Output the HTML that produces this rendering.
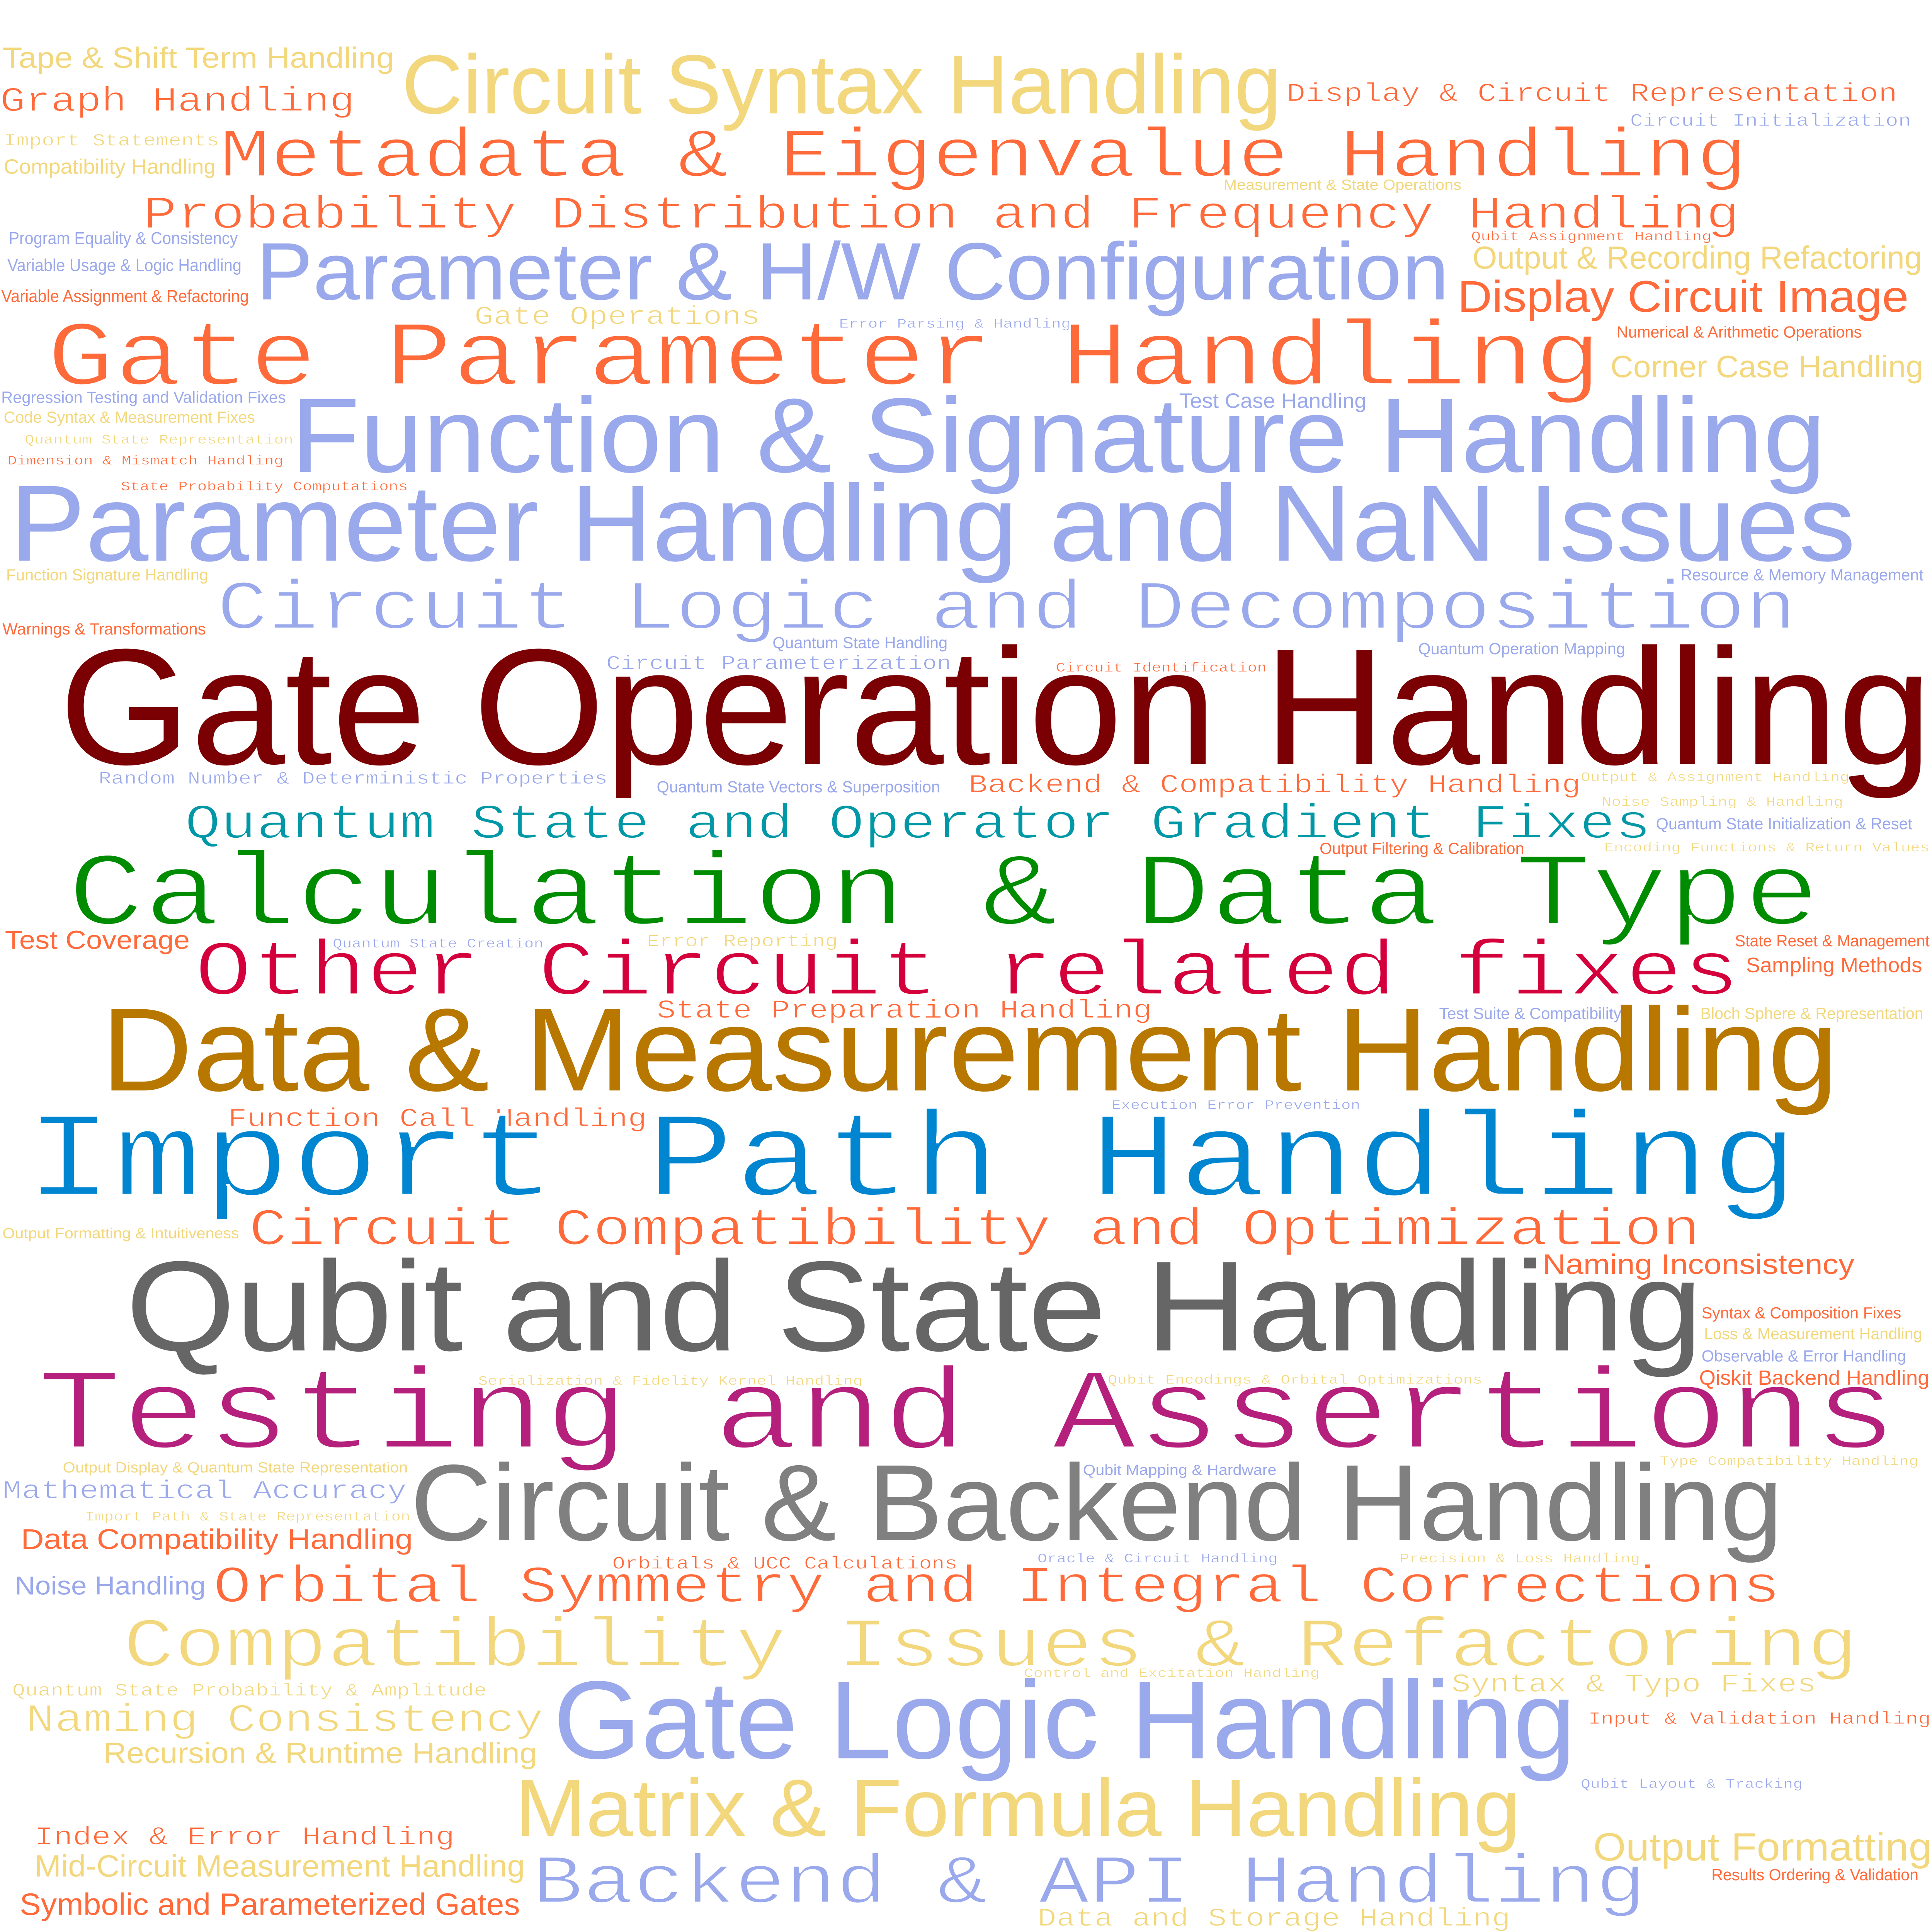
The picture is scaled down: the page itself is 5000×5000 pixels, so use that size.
<!DOCTYPE html>
<html><head><meta charset="utf-8"><style>
html,body{margin:0;padding:0;background:#fff;}
svg{display:block;}
</style></head><body>
<svg id="cloud" xmlns="http://www.w3.org/2000/svg" width="5000" height="5000" viewBox="0 0 1568 1568">
<rect width="1568" height="1568" fill="#fff"/>
</svg>
<script>
const C={o:"#FF6A3A",p:"#9AA8EC",y:"#F2D77C",r:"#7A0004",t:"#0098A6",g:"#008C00",c:"#D4003C",d:"#B87800",b:"#0085D0",k:"#666666",m:"#B5207D",h:"#808080"};
// [text, font(s=sans,m=mono), color, x, baseline, size, width]
const words=[
["Tape & Shift Term Handling","s","y",2,55,24,318],
["Graph Handling","m","o",0,90,30,288],
["Circuit Syntax Handling","s","y",326,92,68,714],
["Display & Circuit Representation","m","o",1044,82,24,496],
["Circuit Initialization","m","p",1323,102,16,228],
["Import Statements","m","y",3,118,17,175],
["Compatibility Handling","s","y",3,141,17,172],
["Metadata & Eigenvalue Handling","m","o",178,143,60,1240],
["Measurement & State Operations","s","y",993,154,12,193],
["Probability Distribution and Frequency Handling","m","o",116,185,40,1296],
["Program Equality & Consistency","s","p",7,198,14,186],
["Qubit Assignment Handling","m","o",1194,195,12,195],
["Output & Recording Refactoring","s","y",1195,218,26,365],
["Variable Usage & Logic Handling","s","p",6,220,14,190],
["Parameter & H/W Configuration","s","p",208,243,66,968],
["Variable Assignment & Refactoring","s","o",1,245,14,201],
["Display Circuit Image","s","o",1183,253,36,366],
["Gate Operations","m","y",385,263,22,232],
["Error Parsing & Handling","m","p",681,266,13,188],
["Numerical & Arithmetic Operations","s","o",1312,274,13,199],
["Gate Parameter Handling","m","o",38,312,76,1262],
["Corner Case Handling","s","y",1307,306,25,254],
["Regression Testing and Validation Fixes","s","p",1,327,13,231],
["Test Case Handling","s","p",957,331,17,152],
["Code Syntax & Measurement Fixes","s","y",3,343,13,204],
["Function & Signature Handling","s","p",236,383,86,1246],
["Quantum State Representation","m","y",20,360,12,218],
["Dimension & Mismatch Handling","m","o",6,377,13,224],
["State Probability Computations","m","o",98,398,13,233],
["Parameter Handling and NaN Issues","s","p",8,455,88,1498],
["Function Signature Handling","s","y",5,471,13,164],
["Resource & Memory Management","s","p",1364,471,13,197],
["Circuit Logic and Decomposition","m","p",176,510,58,1282],
["Warnings & Transformations","s","o",2,515,13,165],
["Quantum State Handling","s","p",627,526,13,142],
["Quantum Operation Mapping","s","p",1151,531,13,168],
["Circuit Parameterization","m","p",492,543,20,280],
["Circuit Identification","m","o",857,545,13,171],
["Gate Operation Handling","s","r",48,620,134,1520],
["Random Number & Deterministic Properties","m","p",80,636,16,413],
["Quantum State Vectors & Superposition","s","p",533,643,13,230],
["Backend & Compatibility Handling","m","o",786,643,24,497],
["Output & Assignment Handling","m","y",1283,634,12,218],
["Noise Sampling & Handling","m","y",1300,654,12,196],
["Quantum State and Operator Gradient Fixes","m","t",150,680,40,1190],
["Quantum State Initialization & Reset","s","p",1344,673,13,208],
["Encoding Functions & Return Values","m","y",1302,691,12,264],
["Output Filtering & Calibration","s","o",1071,693,13,166],
["Calculation & Data Type","m","g",55,750,86,1422],
["Test Coverage","s","o",4,770,21,150],
["Quantum State Creation","m","p",270,769,13,171],
["Error Reporting","m","y",525,768,16,155],
["State Reset & Management","s","o",1408,768,13,158],
["Other Circuit related fixes","m","c",158,807,62,1254],
["Sampling Methods","s","o",1417,789,17,143],
["State Preparation Handling","m","o",533,826,22,402],
["Test Suite & Compatibility","s","p",1168,827,13,148],
["Bloch Sphere & Representation","s","y",1380,827,13,181],
["Data & Measurement Handling","s","d",82,885,96,1410],
["Execution Error Prevention","m","p",902,900,12,202],
["Function Call Handling","m","o",185,914,22,340],
["Import Path Handling","m","b",20,970,100,1440],
["Output Formatting & Intuitiveness","s","y",2,1005,12,192],
["Circuit Compatibility and Optimization","m","o",202,1010,42,1178],
["Naming Inconsistency","s","o",1252,1034,23,253],
["Qubit and State Handling","s","k",102,1096,104,1280],
["Syntax & Composition Fixes","s","o",1381,1070,13,162],
["Loss & Measurement Handling","s","y",1383,1087,13,177],
["Observable & Error Handling","s","p",1381,1105,13,166],
["Qiskit Backend Handling","s","o",1379,1124,17,187],
["Serialization & Fidelity Kernel Handling","m","y",388,1124,11,312],
["Qubit Encodings & Orbital Optimizations","m","y",899,1123,11,304],
["Testing and Assertions","m","m",30,1175,92,1510],
["Output Display & Quantum State Representation","s","y",51,1195,12,280],
["Qubit Mapping & Hardware","s","p",879,1197,12,157],
["Type Compatibility Handling","m","y",1347,1189,12,210],
["Mathematical Accuracy","m","p",2,1216,24,328],
["Circuit & Backend Handling","s","h",333,1250,88,1114],
["Import Path & State Representation","m","y",69,1234,11,264],
["Data Compatibility Handling","s","o",17,1257,23,318],
["Orbitals & UCC Calculations","m","o",497,1273,16,280],
["Oracle & Circuit Handling","m","p",842,1268,13,195],
["Precision & Loss Handling","m","y",1136,1268,13,195],
["Noise Handling","s","p",12,1294,21,155],
["Orbital Symmetry and Integral Corrections","m","o",173,1300,42,1272],
["Compatibility Issues & Refactoring","m","y",100,1352,60,1408],
["Control and Excitation Handling","m","y",831,1361,12,240],
["Quantum State Probability & Amplitude","m","y",10,1376,16,385],
["Syntax & Typo Fixes","m","y",1178,1373,24,296],
["Naming Consistency","m","y",21,1405,32,420],
["Gate Logic Handling","s","p",449,1427,90,830],
["Input & Validation Handling","m","o",1289,1399,16,278],
["Recursion & Runtime Handling","s","y",84,1431,24,352],
["Qubit Layout & Tracking","m","p",1283,1451,12,180],
["Matrix & Formula Handling","s","y",418,1490,66,816],
["Index & Error Handling","m","o",28,1497,24,341],
["Output Formatting","s","y",1293,1510,32,275],
["Mid-Circuit Measurement Handling","s","y",28,1523,25,398],
["Results Ordering & Validation","s","o",1389,1526,13,168],
["Backend & API Handling","m","p",432,1544,58,904],
["Symbolic and Parameterized Gates","s","o",16,1554,25,406],
["Data and Storage Handling","m","y",842,1563,22,384]
];
const svg=document.getElementById('cloud');
const NS="http://www.w3.org/2000/svg";
for(const w of words){
  const [txt,f,col,x,y,sz,wd]=w;
  const t=document.createElementNS(NS,'text');
  t.setAttribute('x',x);t.setAttribute('y',y);
  const size=f==='m'?0.82*wd/(txt.length*0.6):sz;
  t.setAttribute('font-size',size.toFixed(2));
  t.setAttribute('font-family',f==='m'?'"Liberation Mono", monospace':'"Liberation Sans", sans-serif');
  t.setAttribute('fill',C[col]);
  if(f==='m'){
    t.setAttribute('stroke','#fff');
    t.setAttribute('stroke-width',(size*0.022).toFixed(2));
  }
  t.setAttribute('textLength',wd);
  t.setAttribute('lengthAdjust','spacingAndGlyphs');
  t.textContent=txt;
  
  
  svg.appendChild(t);
}
</script>
</body></html>
